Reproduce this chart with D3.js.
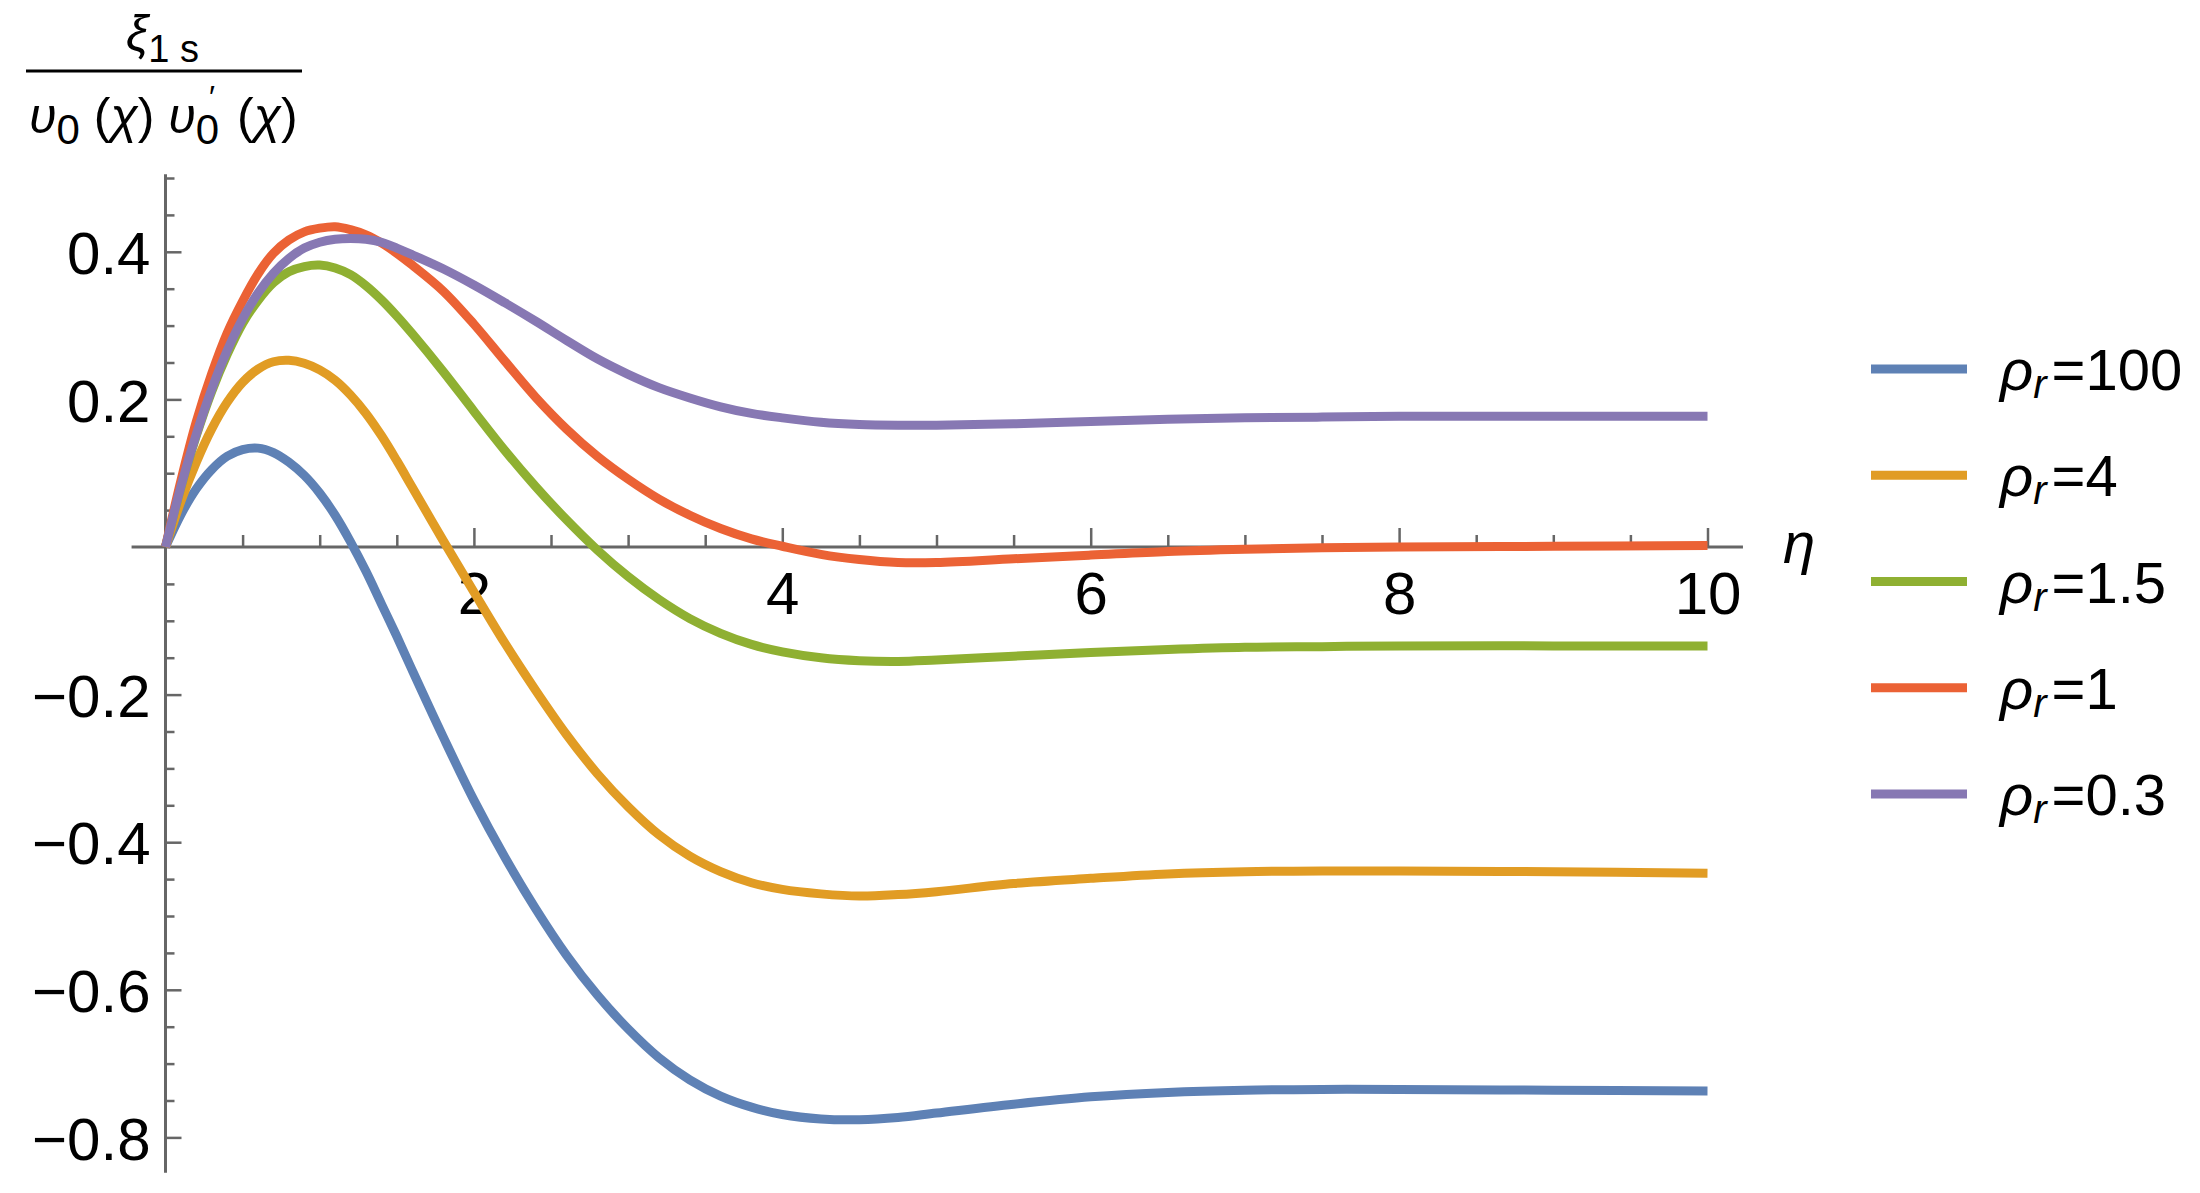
<!DOCTYPE html>
<html>
<head>
<meta charset="utf-8">
<script src="https://cdn.jsdelivr.net/npm/d3@7"></script>
<style>
  body { margin: 0; background: #fff; }
  svg { display: block; }
  text { font-family: "Liberation Sans", Arial, sans-serif; }
</style>
</head>
<body>
<div id="chart"></div>
<script>
// eta grid shared by all curves
var eta = [0, 0.1, 0.2, 0.3, 0.4, 0.5, 0.6, 0.7, 0.8, 0.9, 1.0, 1.1, 1.2, 1.3, 1.4, 1.5, 1.6,
  1.8, 2.0, 2.2, 2.4, 2.6, 2.8, 3.0, 3.2, 3.4, 3.6, 3.8, 4.0,
  4.25, 4.5, 4.75, 5.0, 5.5, 6.0, 6.5, 7.0, 7.5, 8.0, 9.0, 10.0];

var rho100 = [0, 0.044, 0.079, 0.105, 0.123, 0.132, 0.134, 0.128, 0.115, 0.097, 0.073, 0.043, 0.007, -0.033, -0.077, -0.121, -0.167,
  -0.257, -0.343, -0.420, -0.490, -0.553, -0.607, -0.653, -0.692, -0.722, -0.744, -0.759, -0.769,
  -0.775, -0.776, -0.773, -0.767, -0.755, -0.745, -0.739, -0.736, -0.735, -0.735, -0.736, -0.737];

var rho4 = [0, 0.062, 0.115, 0.160, 0.196, 0.223, 0.241, 0.251, 0.253, 0.249, 0.240, 0.226, 0.206, 0.181, 0.151, 0.117, 0.081,
  0.009, -0.061, -0.130, -0.194, -0.254, -0.307, -0.352, -0.390, -0.419, -0.440, -0.455, -0.464,
  -0.470, -0.473, -0.471, -0.467, -0.456, -0.449, -0.443, -0.440, -0.439, -0.439, -0.440, -0.442];

var rho15 = [0, 0.081, 0.151, 0.211, 0.261, 0.303, 0.334, 0.358, 0.373, 0.380, 0.382, 0.378, 0.369, 0.354, 0.335, 0.313, 0.289,
  0.238, 0.184, 0.131, 0.082, 0.037, -0.004, -0.040, -0.071, -0.097, -0.117, -0.132, -0.142,
  -0.150, -0.154, -0.155, -0.153, -0.148, -0.143, -0.139, -0.136, -0.135, -0.134, -0.134, -0.134];

var rho1 = [0, 0.090, 0.170, 0.235, 0.290, 0.333, 0.370, 0.398, 0.416, 0.427, 0.432, 0.434, 0.430, 0.423, 0.412, 0.398, 0.382,
  0.347, 0.302, 0.252, 0.203, 0.160, 0.123, 0.092, 0.065, 0.043, 0.025, 0.011, 0.001,
  -0.010, -0.017, -0.021, -0.021, -0.016, -0.011, -0.006, -0.003, -0.001, 0.000, 0.001, 0.002];

var rho03 = [0, 0.082, 0.153, 0.214, 0.266, 0.309, 0.344, 0.371, 0.391, 0.405, 0.413, 0.417, 0.418, 0.417, 0.413, 0.405, 0.396,
  0.377, 0.355, 0.331, 0.306, 0.280, 0.255, 0.234, 0.216, 0.202, 0.190, 0.181, 0.175,
  0.169, 0.166, 0.165, 0.165, 0.167, 0.170, 0.173, 0.175, 0.176, 0.177, 0.177, 0.177];

var seriesKeys = ["100", "4", "1.5", "1", "0.3"];
var seriesValues = [rho100, rho4, rho15, rho1, rho03];
var colorRange = ["#5E81B5", "#E19C24", "#8FB032", "#EB6235", "#8778B3"];

var xMajorTicks = [2, 4, 6, 8, 10];
var yMajorTicks = [0.4, 0.2, -0.2, -0.4, -0.6, -0.8];

function drawChart(mainDiv) {
  var svg = d3.select(mainDiv).append("svg")
    .attr("width", 2200)
    .attr("height", 1193)
    .style("background", "#fff");

  var x = d3.scaleLinear().domain([0, 10]).range([165.5, 1707.5]);
  var y = d3.scaleLinear().domain([-0.8, 0.4]).range([1137.4, 251.8]);
  var z = d3.scaleOrdinal().domain(seriesKeys).range(colorRange);

  var xMinor = d3.range(1, 21).map(function (i) { return i * 0.5; })
    .filter(function (d) { return xMajorTicks.indexOf(d) < 0; });
  var yMinor = d3.range(-16, 11).filter(function (i) { return i % 4 !== 0; })
    .map(function (i) { return i * 0.05; });

  var axisColor = "#666666";

  // x axis: minor ticks, major ticks + labels, then axis line
  var gx = svg.append("g").attr("transform", "translate(0," + y(0) + ")");
  gx.append("g")
    .call(d3.axisBottom(x).tickValues(xMinor).tickSize(-12).tickFormat(""))
    .attr("color", axisColor);
  gx.append("g")
    .attr("class", "x axis")
    .call(d3.axisBottom(x).tickValues(xMajorTicks).tickSize(-19).tickFormat(d3.format("d")))
    .attr("color", axisColor)
    .attr("font-size", 60)
    .attr("font-family", null);
  gx.selectAll(".domain").remove();
  gx.selectAll(".tick line").attr("stroke-width", 2.5);
  gx.selectAll(".tick text").attr("y", 67).attr("dy", null).attr("fill", "#000");
  gx.append("line")
    .attr("x1", x(-0.22)).attr("x2", x(10.23))
    .attr("stroke", axisColor).attr("stroke-width", 3);

  // y axis
  var gy = svg.append("g").attr("transform", "translate(" + x(0) + ",0)");
  gy.append("g")
    .call(d3.axisLeft(y).tickValues(yMinor).tickSize(-9).tickFormat(""))
    .attr("color", axisColor);
  gy.append("g")
    .attr("class", "y axis")
    .call(d3.axisLeft(y).tickValues(yMajorTicks).tickSize(-16).tickFormat(d3.format(".1f")))
    .attr("color", axisColor)
    .attr("font-size", 60)
    .attr("font-family", null);
  gy.selectAll(".domain").remove();
  gy.selectAll(".tick line").attr("stroke-width", 2.5);
  gy.selectAll(".tick text").attr("x", -15).attr("dy", "0.36em").attr("fill", "#000");
  gy.append("line")
    .attr("y1", y(-0.848)).attr("y2", y(0.505))
    .attr("stroke", axisColor).attr("stroke-width", 3);

  // curves
  var line = d3.line()
    .x(function (d) { return x(d.eta); })
    .y(function (d) { return y(d.value); })
    .curve(d3.curveCatmullRom.alpha(0.5));

  var series = seriesKeys.map(function (key, i) {
    return {
      key: key,
      values: eta.map(function (e, j) { return { eta: e, value: seriesValues[i][j] }; })
    };
  });

  svg.append("g")
    .selectAll("path")
    .data(series)
    .enter().append("path")
    .attr("d", function (d) { return line(d.values); })
    .attr("fill", "none")
    .attr("stroke", function (d) { return z(d.key); })
    .attr("stroke-width", 9)
    .attr("stroke-linejoin", "round");

  // axis label eta
  svg.append("text")
    .attr("x", 1783)
    .attr("y", 563)
    .attr("font-size", 58)
    .attr("font-style", "italic")
    .text("η");

  // y label as a fraction
  var num = svg.append("text").attr("x", 126).attr("font-size", 50);
  num.append("tspan").attr("y", 50).attr("font-style", "italic").text("ξ");
  num.append("tspan").attr("y", 62).attr("font-size", 38).text("1 s");

  svg.append("line")
    .attr("x1", 26).attr("x2", 302)
    .attr("y1", 71).attr("y2", 71)
    .attr("stroke", "#000").attr("stroke-width", 3);

  var den = svg.append("text").attr("x", 29).attr("font-size", 50);
  den.append("tspan").attr("y", 133).attr("font-style", "italic").text("υ");
  den.append("tspan").attr("y", 144).attr("font-size", 42).text("0");
  den.append("tspan").attr("y", 133).text(" (");
  den.append("tspan").attr("y", 133).attr("font-style", "italic").text("χ");
  den.append("tspan").attr("y", 133).text(") ");
  den.append("tspan").attr("y", 133).attr("font-style", "italic").text("υ");
  den.append("tspan").attr("y", 144).attr("font-size", 42).text("0");
  den.append("tspan").attr("y", 108).attr("dx", -10).attr("font-size", 32).text("′");
  den.append("tspan").attr("y", 133).attr("dx", 8).text(" (");
  den.append("tspan").attr("y", 133).attr("font-style", "italic").text("χ");
  den.append("tspan").attr("y", 133).text(")");

  // legend
  var legendY = d3.scaleLinear().domain([0, seriesKeys.length - 1]).range([369, 794]);
  var legend = svg.append("g")
    .selectAll("g")
    .data(seriesKeys)
    .enter().append("g")
    .attr("transform", function (d, i) { return "translate(0," + legendY(i) + ")"; });

  legend.append("line")
    .attr("x1", 1871).attr("x2", 1967)
    .attr("stroke", function (d) { return z(d); })
    .attr("stroke-width", 9);

  var lt = legend.append("text")
    .attr("x", 2000)
    .attr("font-size", 58);
  lt.append("tspan").attr("y", 21).attr("font-style", "italic").text("ρ");
  lt.append("tspan").attr("y", 29).attr("font-size", 40).attr("font-style", "italic").text("r");
  lt.append("tspan").attr("y", 21).attr("dx", 5).text(function (d) { return "=" + d; });
}

drawChart("#chart");
</script>
</body>
</html>
